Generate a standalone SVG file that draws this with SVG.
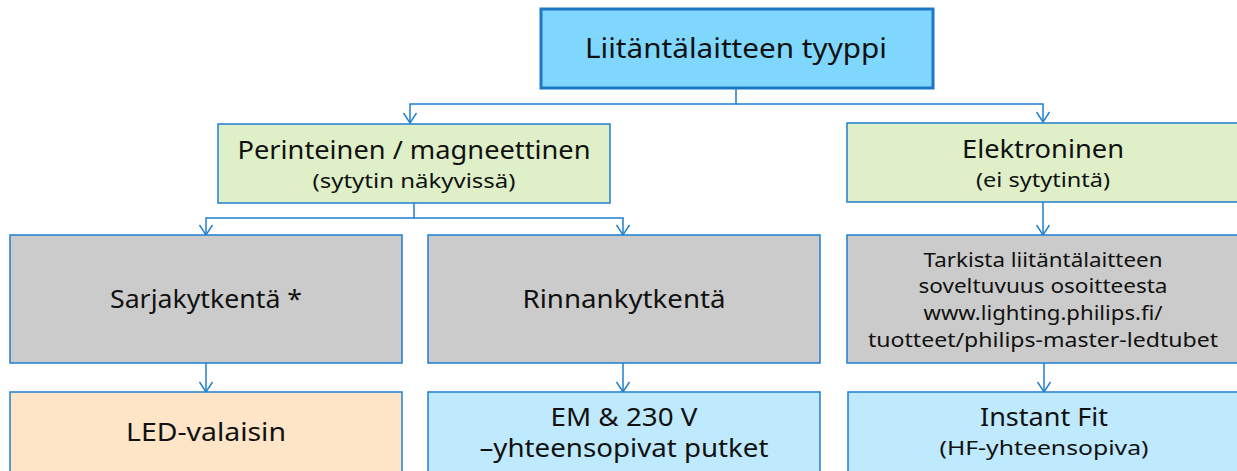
<svg xmlns="http://www.w3.org/2000/svg" width="1237" height="471" viewBox="0 0 1237 471">
<defs>
<marker id="arr" markerWidth="16" markerHeight="12" refX="8" refY="11" orient="0" markerUnits="userSpaceOnUse">
<path d="M1.5,1 L8,11 L14.5,1" fill="none" stroke="#1f7fcf" stroke-width="1.4"/>
</marker>
<style>
.box{stroke:#1f7fcf;stroke-width:1.5}
.t{font-family:"Noto Sans","Open Sans",sans-serif;fill:#111;text-anchor:middle}
.big{font-size:24.5px}
.med{font-size:20.5px}
.sm{font-size:20.5px}
.c{fill:none;stroke:#1f7fcf;stroke-width:1.5}
</style>
</defs>
<rect width="1237" height="471" fill="#fff"/>
<g id="connectors">
<path class="c" d="M736,88 V104 H410 V123" marker-end="url(#arr)"/>
<path class="c" d="M736,104 H1043 V122" marker-end="url(#arr)"/>
<path class="c" d="M414,203 V218 H206 V235" marker-end="url(#arr)"/>
<path class="c" d="M414,218 H623 V235" marker-end="url(#arr)"/>
<path class="c" d="M1043,202 V235" marker-end="url(#arr)"/>
<path class="c" d="M206,363 V392" marker-end="url(#arr)"/>
<path class="c" d="M623,363 V392" marker-end="url(#arr)"/>
<path class="c" d="M1044,363 V392" marker-end="url(#arr)"/>
</g>
<g id="top">
<rect x="541" y="9" width="392" height="79" fill="#80d7fe" stroke="#1c78c4" stroke-width="3"/>
<text class="t" x="736" y="58" style="font-size:28px" textLength="302" lengthAdjust="spacingAndGlyphs">Liitäntälaitteen tyyppi</text>
</g>
<g id="perinteinen">
<rect class="box" x="218" y="124" width="392" height="79" fill="#dff0c9"/>
<text class="t big" x="414" y="159" textLength="353" lengthAdjust="spacingAndGlyphs">Perinteinen / magneettinen</text>
<text class="t med" x="414" y="188" textLength="203" lengthAdjust="spacingAndGlyphs">(sytytin näkyvissä)</text>
</g>
<g id="elektroninen">
<rect class="box" x="847" y="123" width="395" height="79" fill="#dff0c9"/>
<text class="t big" x="1043" y="158" textLength="162" lengthAdjust="spacingAndGlyphs">Elektroninen</text>
<text class="t med" x="1043" y="187" textLength="134" lengthAdjust="spacingAndGlyphs">(ei sytytintä)</text>
</g>
<g id="sarja">
<rect class="box" x="10" y="235" width="392" height="128" fill="#cbcbcb"/>
<text class="t big" x="206" y="308" textLength="192" lengthAdjust="spacingAndGlyphs">Sarjakytkentä *</text>
</g>
<g id="rinnan">
<rect class="box" x="428" y="235" width="392" height="128" fill="#cbcbcb"/>
<text class="t big" x="624" y="308" textLength="203" lengthAdjust="spacingAndGlyphs">Rinnankytkentä</text>
</g>
<g id="tarkista">
<rect class="box" x="847" y="235" width="395" height="128" fill="#cbcbcb"/>
<text class="t sm" x="1043" y="267" textLength="239" lengthAdjust="spacingAndGlyphs">Tarkista liitäntälaitteen</text>
<text class="t sm" x="1043" y="293" textLength="249" lengthAdjust="spacingAndGlyphs">soveltuvuus osoitteesta</text>
<text class="t sm" x="1043" y="320" textLength="239" lengthAdjust="spacingAndGlyphs">www.lighting.philips.fi/</text>
<text class="t sm" x="1043" y="347" textLength="350" lengthAdjust="spacingAndGlyphs">tuotteet/philips-master-ledtubet</text>
</g>
<g id="led">
<rect class="box" x="10" y="392" width="392" height="90" fill="#fee5c8"/>
<text class="t big" x="206" y="441" textLength="160" lengthAdjust="spacingAndGlyphs">LED-valaisin</text>
</g>
<g id="em">
<rect class="box" x="428" y="392" width="392" height="90" fill="#bfe9fd"/>
<text class="t big" x="624" y="426" textLength="147" lengthAdjust="spacingAndGlyphs">EM &amp; 230 V</text>
<text class="t big" x="624" y="457" textLength="289" lengthAdjust="spacingAndGlyphs">–yhteensopivat putket</text>
</g>
<g id="instant">
<rect class="box" x="848" y="392" width="394" height="90" fill="#bfe9fd"/>
<text class="t big" x="1044" y="426" textLength="128" lengthAdjust="spacingAndGlyphs">Instant Fit</text>
<text class="t med" x="1044" y="455" textLength="209" lengthAdjust="spacingAndGlyphs">(HF-yhteensopiva)</text>
</g>
</svg>
